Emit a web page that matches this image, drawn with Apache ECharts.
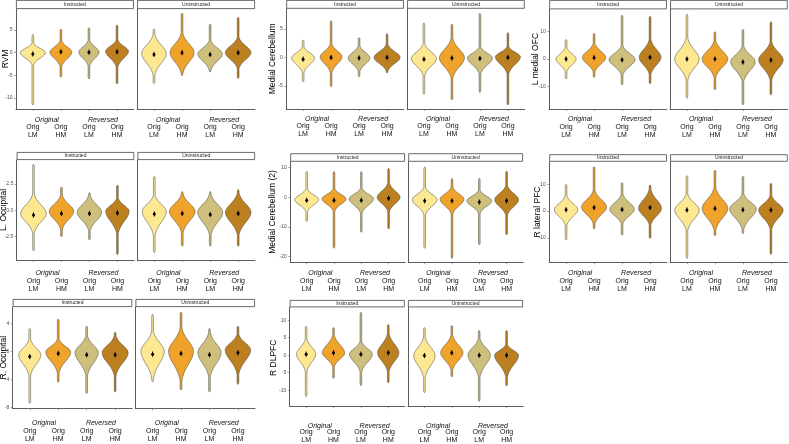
<!DOCTYPE html>
<html><head><meta charset="utf-8">
<script src="https://cdn.jsdelivr.net/npm/echarts@6/dist/echarts.min.js"></script>
<style>html,body{margin:0;padding:0;background:#fff}#c{width:789px;height:444px}</style>
</head><body><div id="c"></div>
<script>
// ---------- DATA ----------
const panelNames = ['RVM','Medial Cerebellum','L medial OFC','L. Occipital','Medial Cerebellum (2)','R lateral PFC','R. Occipital','R DLPFC'];
const facetNames = ['Instructed','Uninstructed'];
const groupLabels = ['Original','Reversed'];
const groupPositions = [1.5, 3.5];
const categoryLabels = ['Orig\nLM','Orig\nHM','Orig\nLM','Orig\nHM'];
const categoryPositions = [1, 2, 3, 4];
const yTickValues = [[-10,-5,0,5],[-5,0,5],[-10,0,10],[-2.5,0,2.5],[-20,-10,0,10],[-10,0,10],[-8,-4,0,4],[-10,-5,0,5,10]];
const yTickDecimals = [0,0,0,1,0,0,0,0];
const yLimits = [[-12.4,9.6],[-9.1,8.6],[-18.3,18.2],[-4.7,4.75],[-21.9,12.0],[-19.1,18.4],[-8.1,6.3],[-14.6,13.7]];
// each violin: [min, bodyLow, densityPeak, bodyHigh, max, mean, peakHalfWidth]
const rvmInstructed = [[-11.5,-2.8,0.0,2.2,4.0,-0.3,0.46],[-5.4,-3.2,0.1,2.8,5.2,0.2,0.40],[-5.8,-3.1,0.1,2.9,5.5,0.1,0.37],[-6.9,-3.3,0.3,2.9,6.1,0.2,0.42]];
const rvmUninstructed = [[-6.8,-5.2,-0.2,4.2,5.2,-0.4,0.45],[-5.0,-4.8,0.0,4.5,8.7,0.0,0.44],[-4.2,-4.0,-0.3,2.8,6.3,-0.4,0.45],[-5.7,-3.6,0.0,3.5,7.8,0.0,0.47]];
const mcInstructed = [[-4.3,-2.8,-0.1,2.0,3.1,-0.3,0.42],[-5.2,-2.8,0.1,2.5,6.5,0.0,0.40],[-3.4,-2.6,-0.1,2.2,3.5,-0.1,0.40],[-2.7,-2.5,0.0,2.4,4.2,0.0,0.48]];
const mcUninstructed = [[-6.5,-3.3,-0.2,2.5,6.1,-0.3,0.46],[-7.5,-3.8,-0.1,3.5,5.9,-0.1,0.46],[-6.2,-3.0,-0.1,1.9,7.8,-0.2,0.46],[-8.4,-3.0,0.1,2.0,4.4,0.0,0.46]];
const ofcInstructed = [[-7.3,-5.0,0.0,4.5,7.2,0.0,0.37],[-6.7,-5.0,0.5,6.0,9.4,0.5,0.43],[-9.5,-6.0,-0.2,5.0,16.1,-0.3,0.48],[-9.1,-6.0,0.6,7.5,15.7,0.6,0.40]];
const ofcUninstructed = [[-14.4,-8.0,0.0,8.0,16.5,0.0,0.45],[-11.3,-7.0,0.0,7.0,10.0,0.0,0.47],[-16.8,-8.5,-1.0,5.0,10.9,-1.1,0.45],[-13.2,-8.0,-0.3,6.5,13.7,-0.4,0.45]];
const lOccInstructed = [[-3.85,-2.2,-0.3,1.6,4.35,-0.45,0.47],[-2.5,-1.9,-0.1,1.5,2.2,-0.3,0.45],[-2.8,-2.0,-0.2,1.5,1.65,-0.3,0.45],[-4.2,-2.3,-0.1,1.2,2.4,-0.25,0.43]];
const lOccUninstructed = [[-4.0,-2.5,-0.1,1.5,3.2,-0.35,0.44],[-3.4,-2.2,-0.1,1.6,1.75,-0.3,0.47],[-3.4,-2.4,-0.2,1.6,1.75,-0.4,0.46],[-3.4,-2.4,-0.2,1.7,1.95,-0.3,0.47]];
const mc2Instructed = [[-8.2,-5.0,-0.8,3.0,8.7,-1.0,0.45],[-17.2,-4.8,-0.5,3.0,8.7,-1.0,0.45],[-11.8,-5.5,-0.5,3.2,8.7,-1.0,0.46],[-10.7,-5.0,0.0,5.0,9.8,-0.3,0.43]];
const mc2Uninstructed = [[-17.2,-6.0,-0.8,3.5,10.3,-1.2,0.47],[-20.6,-5.8,-0.7,3.6,6.4,-1.2,0.45],[-16.0,-5.5,-1.2,2.5,6.4,-1.6,0.47],[-12.7,-6.3,-0.8,4.2,8.9,-1.2,0.45]];
const rlpfcInstructed = [[-10.8,-5.5,0.5,6.0,10.0,0.5,0.43],[-6.7,-5.0,1.5,8.0,16.6,1.3,0.46],[-9.0,-5.0,0.6,6.6,10.6,0.6,0.45],[-10.2,-5.5,1.0,8.5,9.7,1.3,0.42]];
const rlpfcUninstructed = [[-17.7,-7.5,0.4,6.6,13.2,0.4,0.45],[-9.2,-7.5,1.0,9.0,15.3,1.0,0.47],[-8.4,-7.0,0.8,6.6,13.0,0.5,0.49],[-16.2,-7.0,0.4,6.0,10.4,0.4,0.45]];
const rOccInstructed = [[-7.4,-3.6,-0.5,1.8,3.25,-0.75,0.40],[-4.4,-3.2,-0.1,1.8,4.6,-0.3,0.45],[-6.0,-3.6,-0.2,2.3,3.6,-0.5,0.42],[-5.8,-3.6,-0.2,2.3,2.7,-0.5,0.47]];
const rOccUninstructed = [[-4.3,-4.1,0.0,3.0,5.25,-0.4,0.42],[-5.5,-4.4,0.0,3.5,5.6,-0.3,0.45],[-5.8,-3.8,-0.2,2.8,3.25,-0.5,0.42],[-4.7,-3.4,0.2,2.5,3.6,-0.2,0.46]];
const dlpfcInstructed = [[-11.8,-5.0,0.3,5.0,8.3,0.3,0.36],[-6.6,-3.5,0.7,6.0,7.9,0.7,0.42],[-8.7,-5.0,0.3,4.1,12.3,0.3,0.43],[-7.9,-5.0,0.7,6.5,8.8,0.7,0.40]];
const dlpfcUninstructed = [[-10.7,-6.8,-0.1,5.5,7.9,-0.1,0.40],[-6.2,-4.5,0.7,6.0,8.5,0.7,0.42],[-13.2,-6.5,0.1,5.0,7.1,0.0,0.42],[-8.8,-6.5,0.0,3.2,7.1,0.0,0.45]];

const violinSets = [
  [rvmInstructed, rvmUninstructed], [mcInstructed, mcUninstructed], [ofcInstructed, ofcUninstructed],
  [lOccInstructed, lOccUninstructed], [mc2Instructed, mc2Uninstructed], [rlpfcInstructed, rlpfcUninstructed],
  [rOccInstructed, rOccUninstructed], [dlpfcInstructed, dlpfcUninstructed]
];

// ---------- STYLE / LAYOUT ----------
const fillColors = ['#FCE890','#F0A32B','#CEC07C','#BD8021'];
const FONT = 'Liberation Sans, Arial, Helvetica, sans-serif';
const layout = [
  {l:16,    r:255,   st:0,     top:9,     bottom:109,   tx:5.5,   go:10.3},
  {l:286.3, r:524.7, st:0,     top:8.7,   bottom:109,   tx:273,   go:9.3},
  {l:549.3, r:787.7, st:0,     top:9.3,   bottom:109,   tx:536,   go:10},
  {l:16.7,  r:255,   st:152,   top:160,   bottom:260,   tx:3.8,   go:12.7},
  {l:290.3, r:523,   st:153.3, top:161.7, bottom:262.3, tx:273,   go:10.4},
  {l:549.3, r:787.7, st:154.3, top:161.7, bottom:262.3, tx:537.7, go:10.4},
  {l:12.7,  r:255,   st:299,   top:307,   bottom:408.3, tx:3.8,   go:14.4},
  {l:289.7, r:523,   st:300,   top:307.3, bottom:408.3, tx:273.7, go:17.7}
];
const GAP = 3.3;
const SIGMAS = 2.4;    // body edge in standard deviations
const WSCALE = 0.97;   // drawing scale of density half-width

function renderViolin(params, api) {
  const x = api.value(0), mn = api.value(1), lo = api.value(2), pk = api.value(3),
        hi = api.value(4), mx = api.value(5), mean = api.value(6), wmax = api.value(7) * WSCALE;
  const N = 100;
  const sLo = Math.max((pk - lo) / SIGMAS, 1e-6), sHi = Math.max((hi - pk) / SIGMAS, 1e-6);
  const right = [], left = [];
  const rng = mx - mn;
  for (let i = 0; i <= N; i++) {
    const y = mn + rng * i / N;
    const d = y >= pk ? (y - pk) / sHi : (pk - y) / sLo;
    let w = wmax * Math.exp(-0.5 * d * d);
    const edge = Math.min(1, (y - mn) / (rng * 0.02), (mx - y) / (rng * 0.02));
    w = Math.max(w, 0.03 * edge);
    right.push(api.coord([x + w, y]));
    left.push(api.coord([x - w, y]));
  }
  const pts = right.concat(left.reverse());
  const c = api.coord([x, mean]);
  return {type: 'group', children: [
    {type: 'polygon', shape: {points: pts}, style: {fill: fillColors[Math.round(x) - 1], stroke: '#3a3a3a', lineWidth: 0.5}},
    {type: 'line', shape: {x1: c[0], y1: c[1] - 2.6, x2: c[0], y2: c[1] + 2.6}, style: {stroke: '#000', lineWidth: 1}},
    {type: 'circle', shape: {cx: c[0], cy: c[1], r: 1.5}, style: {fill: '#000'}}
  ]};
}

const grids = [], xAxes = [], yAxes = [], series = [], graphics = [];
panelNames.forEach((name, pi) => {
  const L = layout[pi];
  const fw = (L.r - L.l - GAP) / 2;
  for (let f = 0; f < 2; f++) {
    const gx = L.l + f * (fw + GAP);
    const box = {left: gx, top: L.top, width: fw, height: L.bottom - L.top};
    // main grid
    const gi = grids.length;
    grids.push(Object.assign({}, box));
    xAxes.push({
      type: 'value', gridIndex: gi, min: 0.4, max: 4.6, position: 'bottom',
      axisLine: {show: true, onZero: false, lineStyle: {color: '#333', width: 0.8}},
      axisTick: {show: true, customValues: categoryPositions, length: 2, lineStyle: {color: '#666', width: 0.6}},
      axisLabel: {
        show: true, customValues: categoryPositions, margin: L.go + 4,
        showMinLabel: true, showMaxLabel: true,
        formatter: v => categoryLabels[Math.round(v) - 1],
        verticalAlign: 'top', fontSize: 7, lineHeight: 8, color: '#111', fontFamily: FONT
      },
      splitLine: {show: false}
    });
    const dec = yTickDecimals[pi];
    yAxes.push({
      type: 'value', gridIndex: gi, min: yLimits[pi][0], max: yLimits[pi][1],
      axisLine: {show: true, onZero: false, lineStyle: {color: '#333', width: 0.8}},
      axisTick: {show: f === 0, customValues: yTickValues[pi], length: 2, lineStyle: {color: '#666', width: 0.6}},
      axisLabel: {show: f === 0, customValues: yTickValues[pi], margin: 3.5, fontSize: 5, color: '#4d4d4d', fontFamily: FONT,
        showMinLabel: true, showMaxLabel: true, formatter: v => v.toFixed(dec)},
      splitLine: {show: false}
    });
    series.push({
      type: 'custom', xAxisIndex: gi, yAxisIndex: gi, renderItem: renderViolin,
      encode: {x: 0, y: [1, 5]},
      data: violinSets[pi][f].map((v, i) => [categoryPositions[i]].concat(v)),
      silent: true, animation: false
    });
    // overlay grid for the group labels (Original / Reversed)
    const gj = grids.length;
    grids.push(Object.assign({}, box));
    xAxes.push({
      type: 'value', gridIndex: gj, min: 0.4, max: 4.6, position: 'bottom',
      axisLine: {show: false, onZero: false}, axisTick: {show: false}, splitLine: {show: false},
      axisLabel: {show: true, customValues: groupPositions, margin: L.go - 3.5,
        showMinLabel: true, showMaxLabel: true,
        formatter: v => groupLabels[v < 2.5 ? 0 : 1],
        verticalAlign: 'top', fontSize: 7, lineHeight: 8, fontStyle: 'italic', color: '#111', fontFamily: FONT}
    });
    yAxes.push({type: 'value', gridIndex: gj, min: 0, max: 1, show: false});
    graphics.push({type: 'rect', shape: {x: gx + 0.4, y: L.st + 0.4, width: fw - 0.8, height: L.top - L.st - 0.8},
      style: {fill: '#fff', stroke: '#444', lineWidth: 0.8}});
    graphics.push({type: 'text', x: gx + fw / 2, y: (L.st + L.top) / 2,
      style: {text: facetNames[f], fontSize: 5, fill: '#1a1a1a', fontFamily: FONT,
        textAlign: 'center', textVerticalAlign: 'middle', align: 'center', verticalAlign: 'middle'}});
  }
  graphics.push({type: 'text', x: L.tx, y: (L.top + L.bottom) / 2, rotation: Math.PI / 2,
    style: {text: name, fontSize: 8.5, fill: '#000', fontFamily: FONT,
      textAlign: 'center', textVerticalAlign: 'middle', align: 'center', verticalAlign: 'middle'}});
});

const chart = echarts.init(document.getElementById('c'), null, {renderer: 'canvas'});
chart.setOption({
  animation: false,
  backgroundColor: '#fff',
  grid: grids, xAxis: xAxes, yAxis: yAxes, series: series,
  graphic: {elements: graphics}
});
</script></body></html>
